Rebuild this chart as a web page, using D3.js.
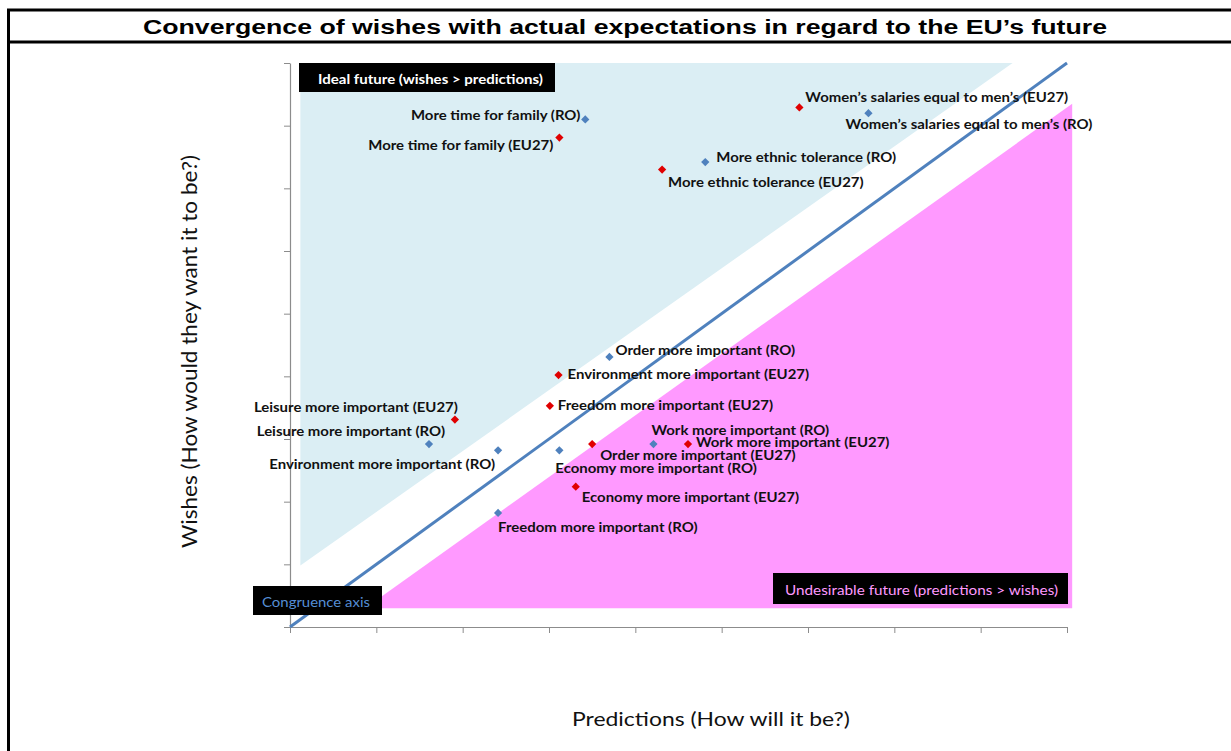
<!DOCTYPE html>
<html>
<head>
<meta charset="utf-8">
<script src="https://cdn.jsdelivr.net/npm/d3@7"></script>
<style>
  html, body { margin: 0; padding: 0; background: #fff; }
  svg { display: block; }
</style>
</head>
<body>
<svg id="chart" width="1231" height="751"></svg>
<script>
// Survey items: what respondents predict (x) vs. what they wish (y)
const items = [
  "More time for family",
  "Women\u2019s salaries equal to men\u2019s",
  "More ethnic tolerance",
  "Order more important",
  "Leisure more important",
  "Environment more important",
  "Economy more important",
  "Work more important",
  "Freedom more important"
];
const roPredictions   = [3.42, 6.70, 4.81, 3.70, 1.61, 2.41, 3.12, 4.21, 2.41];
const roWishes        = [8.10, 8.20, 7.42, 4.31, 2.92, 2.82, 2.82, 2.92, 1.82];
const eu27Predictions = [3.12, 5.90, 4.31, 3.50, 1.91, 3.11, 3.31, 4.61, 3.01];
const eu27Wishes      = [7.81, 8.29, 7.30, 2.92, 3.31, 4.02, 2.24, 2.92, 3.53];

const axisTicks = d3.range(0, 10);

// Shaded zones, in data units
const idealZone       = [[0.12, 9], [8.37, 9], [0.12, 0.98]];
const undesirableZone = [[0.87, 0.30], [9.06, 0.30], [9.06, 8.35]];

// Label placement relative to each marker (pixels): [dx, dy, anchor]
const roLabelPlacement = [
  [-5, -5, "end"], [-23, 11, "start"], [11, -5, "start"], [6, -7, "start"],
  [16, -13, "end"], [-3, 14, "end"], [-4, 18, "start"], [-2, -14, "start"], [0, 14, "start"]
];
const eu27LabelPlacement = [
  [-6, 7, "end"], [6, -11, "start"], [6, 12, "start"], [8, 11, "start"],
  [3, -13, "end"], [9, -1, "start"], [6, 10, "start"], [8, -2, "start"], [8, -1, "start"]
];

const svg = d3.select("#chart");
const plot = { left: 290, right: 1067, top: 63, bottom: 627 };
const textStretch = 1.15;

const x = d3.scaleLinear().domain([0, 9]).range([plot.left, plot.right]);
const y = d3.scaleLinear().domain([0, 9]).range([plot.bottom, plot.top]);

// Page frame with title row
svg.append("path")
  .attr("d", "M8.5,760 L8.5,10 L1245,10 L1245,760 M8.5,42 L1245,42")
  .attr("fill", "none").attr("stroke", "#000").attr("stroke-width", 3);

svg.append("text")
  .attr("x", 143).attr("y", 34)
  .attr("textLength", 964).attr("lengthAdjust", "spacingAndGlyphs")
  .attr("font-family", "Liberation Sans, Arial, sans-serif")
  .attr("font-weight", "bold").attr("font-size", 20)
  .text("Convergence of wishes with actual expectations in regard to the EU\u2019s future");

// Zones
const zoneLine = d3.line().x(d => x(d[0])).y(d => y(d[1]));
svg.append("path").attr("d", zoneLine(idealZone) + "Z").attr("fill", "#dbeef4");
svg.append("path").attr("d", zoneLine(undesirableZone) + "Z").attr("fill", "#ff99ff");

// Axes
const axisColor = "#8c8c8c";
const gx = svg.append("g").attr("transform", `translate(0,${plot.bottom})`)
  .call(d3.axisBottom(x).tickValues(axisTicks.concat([9])).tickFormat("").tickSize(6).tickSizeOuter(0));
const gy = svg.append("g").attr("transform", `translate(${plot.left},0)`)
  .call(d3.axisLeft(y).tickValues(axisTicks.concat([9])).tickFormat("").tickSize(6).tickSizeOuter(0));
[gx, gy].forEach(g => {
  g.select(".domain").attr("stroke", axisColor).attr("stroke-width", 1.2);
  g.selectAll(".tick line").attr("stroke", axisColor).attr("stroke-width", 1);
});

// Congruence axis (wishes = predictions)
svg.append("line")
  .attr("x1", x(0)).attr("y1", y(0)).attr("x2", x(9)).attr("y2", y(9))
  .attr("stroke", "#4f81bd").attr("stroke-width", 3);

// Zone captions
function caption(x0, y0, w, h, tx, tw, text, color, weight) {
  svg.append("rect").attr("x", x0).attr("y", y0).attr("width", w).attr("height", h).attr("fill", "#000");
  svg.append("text")
    .attr("x", tx).attr("y", y0 + h / 2 + 1)
    .attr("textLength", tw).attr("lengthAdjust", "spacingAndGlyphs")
    .attr("dominant-baseline", "central")
    .attr("font-family", "Lato, sans-serif").attr("font-weight", weight)
    .attr("font-size", 13).attr("fill", color)
    .text(text);
}
caption(299, 63, 256, 29, 318, 225, "Ideal future (wishes > predictions)", "#fff", "bold");
caption(773, 573, 295, 31, 785, 273, "Undesirable future (predictions > wishes)", "#ff99ff", "normal");
caption(253, 586, 129, 29, 262, 108, "Congruence axis", "#558ed5", "normal");

// Markers and labels
function series(preds, wishes, placement, color, suffix) {
  const rows = items.map((name, i) => ({ name, px: preds[i], wy: wishes[i], p: placement[i] }));
  const g = svg.append("g");
  g.selectAll("path").data(rows).join("path")
    .attr("d", d3.symbol().type(d3.symbolSquare).size(34))
    .attr("transform", d => `translate(${x(d.px)},${y(d.wy)}) rotate(45)`)
    .attr("fill", color);
  g.selectAll("text").data(rows).join("text")
    .attr("transform", d => `translate(${x(d.px) + d.p[0]},${y(d.wy) + d.p[1]}) scale(${textStretch},1)`)
    .attr("text-anchor", d => d.p[2])
    .attr("dominant-baseline", "central")
    .attr("font-family", "Lato, sans-serif").attr("font-weight", "bold")
    .attr("font-size", 13).attr("fill", "#111")
    .text(d => `${d.name} (${suffix})`);
}
series(roPredictions, roWishes, roLabelPlacement, "#4f81bd", "RO");
series(eu27Predictions, eu27Wishes, eu27LabelPlacement, "#e00000", "EU27");

// Axis titles
svg.append("text")
  .attr("x", 572).attr("y", 718)
  .attr("textLength", 278).attr("lengthAdjust", "spacingAndGlyphs")
  .attr("dominant-baseline", "central")
  .attr("font-family", "Lato, sans-serif").attr("font-size", 20).attr("fill", "#111")
  .text("Predictions (How will it be?)");
svg.append("text")
  .attr("transform", "translate(188,548) rotate(-90)")
  .attr("textLength", 393).attr("lengthAdjust", "spacingAndGlyphs")
  .attr("dominant-baseline", "central")
  .attr("font-family", "Lato, sans-serif").attr("font-size", 21).attr("fill", "#111")
  .text("Wishes (How would they want it to be?)");
</script>
</body>
</html>
